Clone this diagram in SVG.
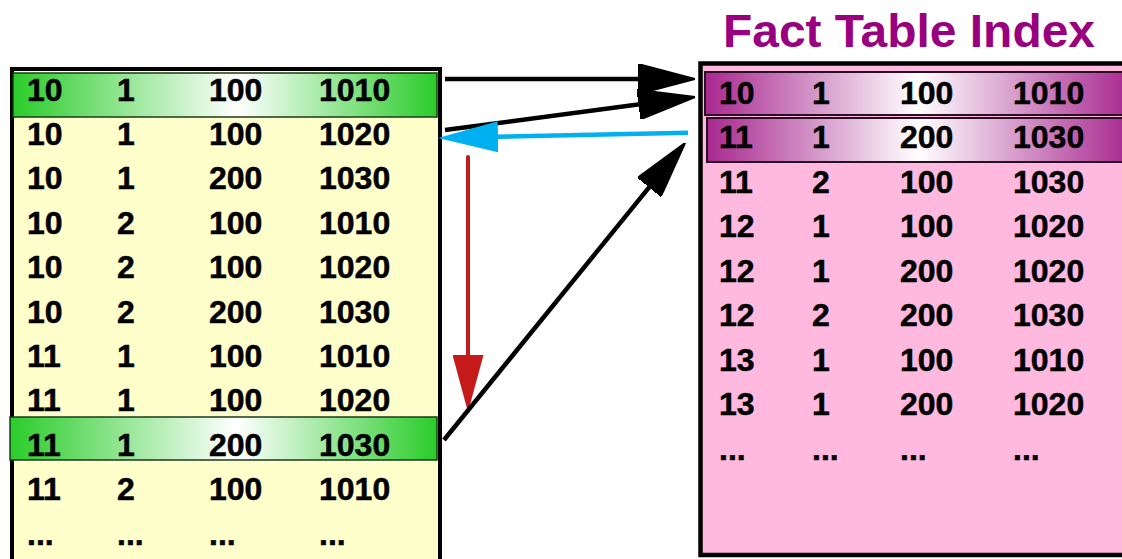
<svg xmlns="http://www.w3.org/2000/svg" width="1122" height="559" viewBox="0 0 1122 559">
<style>
.t{font-family:"Liberation Sans",Arial,sans-serif;font-weight:bold;font-size:32px;fill:#000;stroke:#000;stroke-width:0.5}
.title{font-family:"Liberation Sans",Arial,sans-serif;font-weight:bold;font-size:46px;fill:#990080}
.blk{stroke:#000;stroke-width:4.5;fill:none}
</style>
<defs>
<linearGradient id="gg" x1="0" y1="0" x2="1" y2="0">
<stop offset="0" stop-color="#2acc2a"/>
<stop offset="0.53" stop-color="#ffffff"/>
<stop offset="1" stop-color="#2acc2a"/>
</linearGradient>
<linearGradient id="mg" x1="0" y1="0" x2="1" y2="0">
<stop offset="0" stop-color="#a8288f"/>
<stop offset="0.5" stop-color="#ffffff"/>
<stop offset="1" stop-color="#a8288f"/>
</linearGradient>
<marker id="ab" viewBox="0 0 57 30" refX="47" refY="15" markerWidth="57" markerHeight="30" markerUnits="userSpaceOnUse" orient="auto">
<path d="M0,0 L57,15 L0,30 z" fill="#000" stroke="#000" stroke-width="2" stroke-linejoin="round"/>
</marker>
<marker id="abl" viewBox="0 0 60 31" refX="50" refY="15.5" markerWidth="60" markerHeight="31" markerUnits="userSpaceOnUse" orient="auto">
<path d="M0,0 L60,15.5 L0,31 z" fill="#00b0f0"/>
</marker>
<marker id="ar" viewBox="0 0 57 31" refX="47" refY="15.5" markerWidth="57" markerHeight="31" markerUnits="userSpaceOnUse" orient="auto">
<path d="M0,0 L57,15.5 L0,31 z" fill="#c41a1a"/>
</marker>
</defs>
<rect width="1122" height="559" fill="#fff"/>

<g id="left-table">
<rect x="12" y="69" width="428" height="500" fill="#ffffcc" stroke="#000" stroke-width="4"/>
<rect x="13" y="73" width="424" height="44" fill="url(#gg)" stroke="#1a3a1a" stroke-width="1.5"/>
<rect x="10" y="417" width="427" height="43" fill="url(#gg)" stroke="#1a3a1a" stroke-width="1.5"/>
<g class="t">
<text x="27" y="101">10</text><text x="117" y="101">1</text><text x="209" y="101">100</text><text x="319" y="101">1010</text>
<text x="27" y="145">10</text><text x="117" y="145">1</text><text x="209" y="145">100</text><text x="319" y="145">1020</text>
<text x="27" y="189">10</text><text x="117" y="189">1</text><text x="209" y="189">200</text><text x="319" y="189">1030</text>
<text x="27" y="234">10</text><text x="117" y="234">2</text><text x="209" y="234">100</text><text x="319" y="234">1010</text>
<text x="27" y="278">10</text><text x="117" y="278">2</text><text x="209" y="278">100</text><text x="319" y="278">1020</text>
<text x="27" y="323">10</text><text x="117" y="323">2</text><text x="209" y="323">200</text><text x="319" y="323">1030</text>
<text x="27" y="367">11</text><text x="117" y="367">1</text><text x="209" y="367">100</text><text x="319" y="367">1010</text>
<text x="27" y="411">11</text><text x="117" y="411">1</text><text x="209" y="411">100</text><text x="319" y="411">1020</text>
<text x="27" y="456">11</text><text x="117" y="456">1</text><text x="209" y="456">200</text><text x="319" y="456">1030</text>
<text x="27" y="500">11</text><text x="117" y="500">2</text><text x="209" y="500">100</text><text x="319" y="500">1010</text>
<text x="27" y="545">...</text><text x="117" y="545">...</text><text x="209" y="545">...</text><text x="319" y="545">...</text>
</g>
</g>

<g id="right-table">
<text class="title" x="723" y="47" textLength="372" lengthAdjust="spacingAndGlyphs">Fact Table Index</text>
<rect x="700.5" y="63.5" width="440" height="491.5" fill="#ffb9df" stroke="#000" stroke-width="4.5"/>
<rect x="705" y="72" width="425" height="43" fill="url(#mg)" stroke="#2a1025" stroke-width="2"/>
<rect x="707" y="118" width="423" height="44" fill="url(#mg)" stroke="#2a1025" stroke-width="2"/>
<g class="t">
<text x="719" y="104">10</text><text x="812" y="104">1</text><text x="900" y="104">100</text><text x="1013" y="104">1010</text>
<text x="719" y="148">11</text><text x="812" y="148">1</text><text x="900" y="148">200</text><text x="1013" y="148">1030</text>
<text x="719" y="193">11</text><text x="812" y="193">2</text><text x="900" y="193">100</text><text x="1013" y="193">1030</text>
<text x="719" y="237">12</text><text x="812" y="237">1</text><text x="900" y="237">100</text><text x="1013" y="237">1020</text>
<text x="719" y="282">12</text><text x="812" y="282">1</text><text x="900" y="282">200</text><text x="1013" y="282">1020</text>
<text x="719" y="326">12</text><text x="812" y="326">2</text><text x="900" y="326">200</text><text x="1013" y="326">1030</text>
<text x="719" y="371">13</text><text x="812" y="371">1</text><text x="900" y="371">100</text><text x="1013" y="371">1010</text>
<text x="719" y="415">13</text><text x="812" y="415">1</text><text x="900" y="415">200</text><text x="1013" y="415">1020</text>
<text x="719" y="460">...</text><text x="812" y="460">...</text><text x="900" y="460">...</text><text x="1013" y="460">...</text>
</g>
</g>

<g id="connectors">
<line class="blk" x1="445" y1="79" x2="685" y2="79" marker-end="url(#ab)"/>
<line class="blk" x1="445" y1="130" x2="685.1" y2="98.3" marker-end="url(#ab)"/>
<line x1="688" y1="132.7" x2="448" y2="137.8" stroke="#00b0f0" stroke-width="4.5" marker-end="url(#abl)"/>
<line x1="468" y1="157" x2="468" y2="402" stroke="#c41a1a" stroke-width="4" stroke-linecap="round" marker-end="url(#ar)"/>
<line class="blk" x1="444" y1="440" x2="678.7" y2="150.8" marker-end="url(#ab)"/>
</g>
</svg>
